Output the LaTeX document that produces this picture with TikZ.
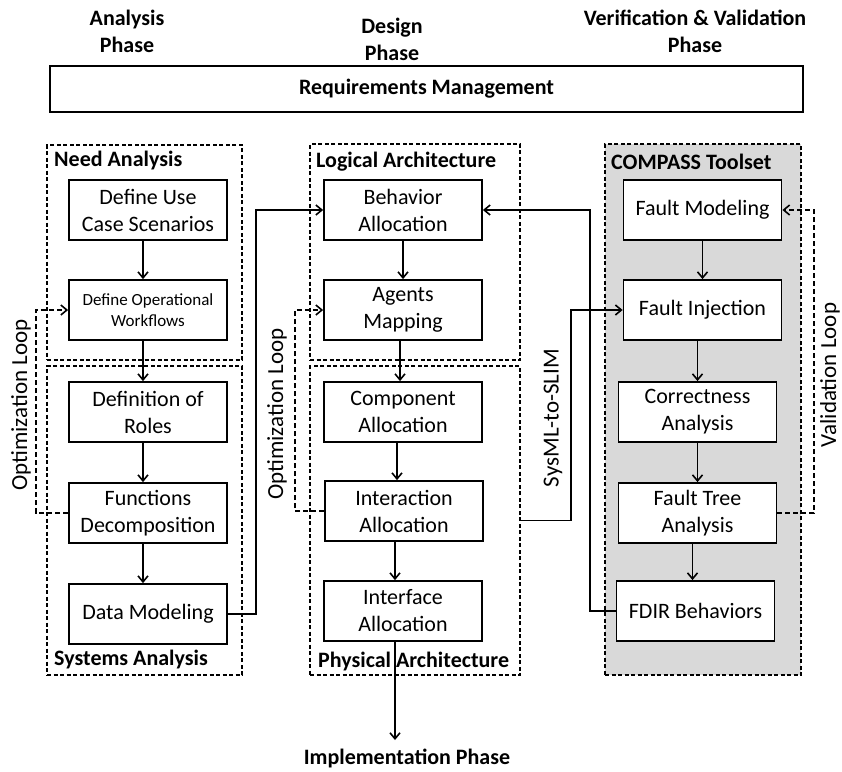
\documentclass[tikz,border=0pt]{standalone}
\usepackage{fontspec}
\setmainfont{Carlito}
\usetikzlibrary{arrows.meta}
\definecolor{toolgray}{RGB}{217,217,217}
\tikzset{
  x=1pt, y=-1pt,
  stepbox/.style={draw, line width=1.8pt, fill=white, minimum width=158pt, minimum height=60pt, align=center, inner sep=0pt, font=\fontsize{22}{27}\selectfont},
  groupbox/.style={draw, line width=1.2pt, dash pattern=on 4pt off 2.5pt, inner sep=0pt},
  grouptitle/.style={anchor=west, inner sep=0pt, font=\bfseries\fontsize{22}{24}\selectfont},
  flow/.style={line width=1.8pt, -{Straight Barb[length=6pt,width=10pt,line width=1.6pt]}},
  loopline/.style={line width=1.8pt, dash pattern=on 5pt off 3pt, -{Straight Barb[length=6pt,width=10pt,line width=1.6pt]}},
  phase/.style={align=center, inner sep=0pt, font=\bfseries\fontsize{22}{27}\selectfont},
  sidelabel/.style={rotate=90, inner sep=0pt, font=\fontsize{23}{24}\selectfont}
}
\begin{document}
\begin{tikzpicture}
\useasboundingbox (0,0) rectangle (842,771);
% phases
\node[phase] (ph1) at (127,31) {Analysis\\Phase};
\node[phase] (ph2) at (392,39) {Design\\Phase};
\node[phase] (ph3) at (695,31) {Verification \& Validation\\Phase};
\node[draw, line width=1.8pt, minimum width=753pt, minimum height=46pt, inner sep=0pt, font=\bfseries\fontsize{22}{24}\selectfont] (req) at (426.5,89) {Requirements Management};
% group boxes
\node[groupbox, minimum width=195pt, minimum height=215pt] (need) at (144.5,252.5) {};
\node[groupbox, minimum width=195pt, minimum height=309pt] (sys) at (144.5,520.5) {};
\node[groupbox, minimum width=210pt, minimum height=216pt] (logi) at (415,252) {};
\node[groupbox, minimum width=210pt, minimum height=309pt] (phys) at (415,520.5) {};
\node[groupbox, fill=toolgray, minimum width=196pt, minimum height=531pt] (comp) at (703,409.5) {};
\node[grouptitle] (tneed) at (54,161) {Need Analysis};
\node[grouptitle] (tsys) at (54,659) {Systems Analysis};
\node[grouptitle] (tlog) at (316,162) {Logical Architecture};
\node[grouptitle] (tcomp) at (611,162) {COMPASS Toolset};
% left column
\node[stepbox] (uc) at (148,210) {Define Use\\Case Scenarios};
\node[stepbox, font=\fontsize{17}{21}\selectfont] (dow) at (148,310) {Define Operational\\Workflows};
\node[stepbox] (roles) at (148,412) {Definition of\\Roles};
\node[stepbox] (fdec) at (148,513) {Functions\\Decomposition};
\node[stepbox] (dm) at (148,614) {Data Modeling};
% middle column
\node[stepbox] (beh) at (403,210) {Behavior\\Allocation};
\node[stepbox] (agm) at (403,310) {Agents\\Mapping};
\node[stepbox] (cmp) at (403,412) {Component\\Allocation};
\node[stepbox] (inter) at (404,511) {Interaction\\Allocation};
\node[stepbox] (iface) at (403,611) {Interface\\Allocation};
% right column
\node[stepbox] (fmod) at (702.5,210) {Fault Modeling};
\node[stepbox] (finj) at (702.5,310) {Fault Injection};
\node[stepbox] (corr) at (697.5,412) {Correctness\\Analysis};
\node[stepbox] (fta) at (697.5,513) {Fault Tree\\Analysis};
\node[stepbox] (fdir) at (695.5,611) {FDIR Behaviors};
% vertical flows
\draw[flow] ([xshift=-5pt]uc.south) -- ([xshift=-5pt]uc.south |- dow.north);
\draw[flow] ([xshift=-5pt]dow.south) -- ([xshift=-5pt]dow.south |- roles.north);
\draw[flow] ([xshift=-5pt]roles.south) -- ([xshift=-5pt]roles.south |- fdec.north);
\draw[flow] ([xshift=-5pt]fdec.south) -- ([xshift=-5pt]fdec.south |- dm.north);
\draw[flow] (beh.south) -- (beh.south |- agm.north);
\draw[flow] ([xshift=-3pt]agm.south) -- ([xshift=-3pt]agm.south |- cmp.north);
\draw[flow] ([xshift=-6pt]cmp.south) -- ([xshift=-6pt]cmp.south |- inter.north);
\draw[flow] ([xshift=-9pt]inter.south) -- ([xshift=-9pt]inter.south |- iface.north);
\draw[flow] (fmod.south) -- (fmod.south |- finj.north);
\draw[flow] (corr.north |- finj.south) -- (corr.north);
\draw[flow] (corr.south) -- (corr.south |- fta.north);
\draw[flow] ([xshift=-3pt]fdir.north |- fta.south) -- ([xshift=-3pt]fdir.north);
% implementation
\coordinate (impl) at (395,740);
\draw[flow] ([xshift=-8pt]iface.south) -- (impl);
\node[grouptitle] (tphys) at (318,661) {Physical Architecture};
\node[inner sep=0pt, font=\bfseries\fontsize{22}{24}\selectfont] (timpl) at (407,758) {Implementation Phase};
% cross connections
\draw[flow] (dm.east) -- (256,614) |- (beh.west);
\draw[flow] (fdir.west) -- (590,611) |- (beh.east);
\draw[flow] (phys.east) -- (571,520.5) |- (finj.west);
% loops
\draw[loopline] (fdec.west) -- (36,513) |- (dow.west);
\draw[loopline] (inter.west) -- (295,511) |- (agm.west);
\draw[loopline] (fta.east) -- (814,513) |- (fmod.east);
% side labels
\node[sidelabel] (lopt1) at (21,405) {Optimization Loop};
\node[sidelabel] (lopt2) at (277,414) {Optimization Loop};
\node[sidelabel] (lsys) at (553,418) {SysML-to-SLIM};
\node[sidelabel] (lval) at (830,375) {Validation Loop};
\end{tikzpicture}
\end{document}
